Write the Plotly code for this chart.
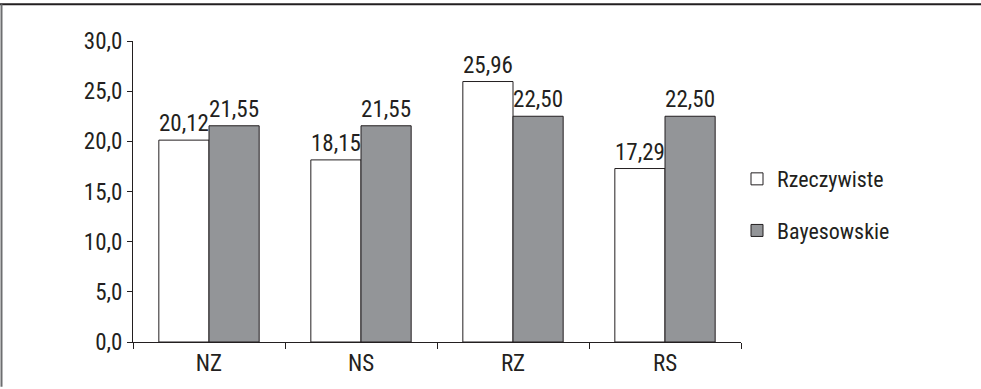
import plotly.graph_objects as go

categories = ["NZ", "NS", "RZ", "RS"]
rzeczywiste = [20.12, 18.15, 25.96, 17.29]
bayesowskie = [21.55, 21.55, 22.50, 22.50]
y_ticks = [0, 5, 10, 15, 20, 25, 30]
y_tick_labels = ["0,0", "5,0", "10,0", "15,0", "20,0", "25,0", "30,0"]

FONT = "Liberation Sans Narrow, Roboto Condensed, Arial Narrow, sans-serif"
EDGE = "#231f20"
FS = 23

fig = go.Figure()
fig.add_trace(go.Bar(
    name="Rzeczywiste", x=categories, y=rzeczywiste,
    marker=dict(color="white", line=dict(color=EDGE, width=1)),
    texttemplate="%{y:.2f}", textposition="outside", cliponaxis=False,
    textfont=dict(size=FS, color=EDGE), legendgroup="a",
))
fig.add_trace(go.Bar(
    name="Bayesowskie", x=categories, y=bayesowskie,
    marker=dict(color="#939598", line=dict(color=EDGE, width=1)),
    texttemplate="%{y:.2f}", textposition="outside", cliponaxis=False,
    textfont=dict(size=FS, color=EDGE), legendgroup="b",
))

fig.update_layout(
    width=981, height=389,
    margin=dict(l=133, r=240, t=41, b=45),
    paper_bgcolor="white", plot_bgcolor="white",
    barmode="group", bargap=0.34, bargroupgap=0,
    separators=", ",
    font=dict(family=FONT, size=FS, color=EDGE),
    showlegend=True,
    legend=dict(x=(737 - 133) / 608, y=0.455, xanchor="left", yanchor="middle",
                font=dict(size=FS - 1, color=EDGE), tracegroupgap=20,
                itemwidth=30, bgcolor="rgba(0,0,0,0)"),
    xaxis=dict(showline=True, linecolor=EDGE, linewidth=1, ticks="outside",
               tickson="boundaries", ticklen=6, tickcolor=EDGE,
               tickfont=dict(size=FS), showgrid=False),
    yaxis=dict(range=[0, 30], tickvals=y_ticks, ticktext=y_tick_labels,
               showline=True, linecolor=EDGE, linewidth=1, ticks="outside",
               ticklen=5, tickcolor=EDGE, tickfont=dict(size=FS),
               showgrid=False, zeroline=False),
    shapes=[
        dict(type="line", xref="paper", yref="paper",
             x0=-133/608, x1=(981-133)/608, y0=(389-45-4)/303, y1=(389-45-4)/303,
             line=dict(color=EDGE, width=2)),
        dict(type="line", xref="paper", yref="paper",
             x0=-131.5/608, x1=-131.5/608, y0=-45/303, y1=(389-45-4)/303,
             line=dict(color="#6d6e70", width=2)),
    ],
)

fig.write_html("out.html")
